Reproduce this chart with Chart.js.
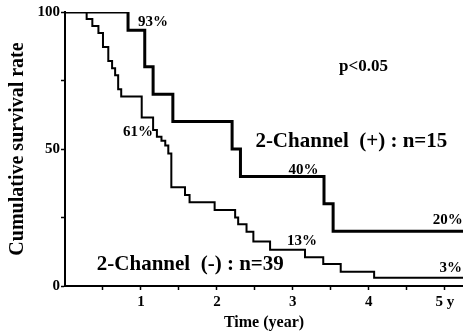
<!DOCTYPE html>
<html>
<head>
<meta charset="utf-8">
<script src="https://cdn.jsdelivr.net/npm/chart.js@4/dist/chart.umd.min.js"></script>
<style>
  html, body { margin: 0; padding: 0; background: #fff; }
</style>
</head>
<body>
<canvas id="kmChart" width="463" height="332"></canvas>
<script>
// survival curves: time in years, cumulative survival in %
var plusTimes = [0, 0.83, 1.05, 1.16, 1.42, 2.20, 2.31, 3.41, 3.53, 5.24];
var plusSurvival = [100, 93.3, 80.0, 70.0, 60.0, 50.0, 40.0, 30.0, 20.0, 20.0];

var minusTimes = [0, 0.285, 0.36, 0.44, 0.50, 0.57, 0.62, 0.66, 0.70, 0.74, 1.01, 1.16, 1.21, 1.27, 1.32, 1.36, 1.40, 1.58, 1.64, 1.97, 2.24, 2.28, 2.39, 2.48, 2.70, 3.16, 3.40, 3.63, 4.07, 5.24];
var minusSurvival = [100, 97.4, 94.9, 92.3, 87.2, 82.1, 79.5, 76.9, 71.8, 69.2, 61.5, 56.9, 54.5, 53.0, 51.3, 48.4, 36.0, 33.2, 30.6, 27.7, 25.0, 22.5, 19.8, 16.2, 13.2, 10.5, 8.0, 5.2, 3.0, 3.0];

var xTickValues = [0.5, 1, 1.5, 2, 2.5, 3, 3.5, 4, 4.5, 5];
var xLabelValues = [1, 2, 3, 4, 5];
var xTickLabels = ['1', '2', '3', '4', '5 y'];
var yTickValues = [0, 25, 50, 75, 100];
var yLabelValues = [0, 50, 100];
var yTickLabels = ['0', '50', '100'];

function toPoints(times, values) {
    return times.map(function(t, i) { return { x: t, y: values[i] }; });
}

var serif = "'Liberation Serif', 'DejaVu Serif', serif";

// text written on the plot, placed in data units
var notes = [
    { text: '93%', x: 1.16, y: 96.4, size: 15 },
    { text: '61%', x: 0.96, y: 56.3, size: 15 },
    { text: 'p<0.05', x: 3.93, y: 80.0, size: 17 },
    { text: '2-Channel  (+) : n=15', x: 3.77, y: 52.7, size: 21 },
    { text: '40%', x: 3.14, y: 42.3, size: 15 },
    { text: '20%', x: 5.04, y: 24.0, size: 15 },
    { text: '13%', x: 3.12, y: 16.2, size: 15 },
    { text: '3%', x: 5.08, y: 6.5, size: 15 },
    { text: '2-Channel  (-) : n=39', x: 1.65, y: 7.7, size: 21 }
];

var notesPlugin = {
    id: 'notes',
    afterDatasetsDraw: function(chart) {
        var ctx = chart.ctx;
        var xs = chart.scales.x, ys = chart.scales.y;
        ctx.save();
        ctx.fillStyle = '#000';
        ctx.textAlign = 'center';
        ctx.textBaseline = 'middle';
        notes.forEach(function(n) {
            ctx.font = 'bold ' + n.size + 'px ' + serif;
            ctx.fillText(n.text, xs.getPixelForValue(n.x), ys.getPixelForValue(n.y));
        });
        ctx.restore();
    }
};

var ctx = document.getElementById('kmChart').getContext('2d');
var kmChart = new Chart(ctx, {
    type: 'line',
    data: {
        datasets: [{
            label: '2-Channel (+)',
            data: toPoints(plusTimes, plusSurvival),
            stepped: 'before',
            borderColor: '#000',
            borderWidth: 3,
            pointRadius: 0,
            fill: false
        }, {
            label: '2-Channel (-)',
            data: toPoints(minusTimes, minusSurvival),
            stepped: 'before',
            borderColor: '#000',
            borderWidth: 2,
            pointRadius: 0,
            fill: false
        }]
    },
    options: {
        responsive: false,
        animation: false,
        devicePixelRatio: 1,
        layout: { padding: { top: 12, right: 0, bottom: 0, left: 0 } },
        plugins: {
            legend: { display: false },
            tooltip: { enabled: false }
        },
        scales: {
            x: {
                type: 'linear',
                min: 0,
                max: 5.24,
                afterFit: function(scale) { scale.height = 46; },
                afterBuildTicks: function(scale) {
                    scale.ticks = xTickValues.map(function(v) { return { value: v }; });
                },
                border: { display: true, color: '#000', width: 2 },
                grid: { drawOnChartArea: false, drawTicks: true, tickLength: 4, color: '#000', tickWidth: 1.5 },
                ticks: {
                    autoSkip: false,
                    maxRotation: 0,
                    padding: 3,
                    color: '#000',
                    font: { family: serif, size: 15, weight: 'bold' },
                    callback: function(v) {
                        var i = xLabelValues.indexOf(v);
                        return i >= 0 ? xTickLabels[i] : '';
                    }
                },
                title: {
                    display: true,
                    text: 'Time (year)',
                    color: '#000',
                    font: { family: serif, size: 16, weight: 'bold' },
                    padding: { top: 1, bottom: 0 }
                }
            },
            y: {
                min: 0,
                max: 100,
                afterFit: function(scale) { scale.width = 65; },
                afterBuildTicks: function(scale) {
                    scale.ticks = yTickValues.map(function(v) { return { value: v }; });
                },
                border: { display: true, color: '#000', width: 2 },
                grid: { drawOnChartArea: false, drawTicks: true, tickLength: 4, color: '#000', tickWidth: 1.5 },
                ticks: {
                    autoSkip: false,
                    padding: 1,
                    color: '#000',
                    font: { family: serif, size: 15, weight: 'bold' },
                    callback: function(v) {
                        var i = yLabelValues.indexOf(v);
                        return i >= 0 ? yTickLabels[i] : '';
                    }
                },
                title: {
                    display: true,
                    text: 'Cumulative survival rate',
                    color: '#000',
                    font: { family: serif, size: 20, weight: 'bold' },
                    padding: { top: 6, bottom: 0 }
                }
            }
        }
    },
    plugins: [notesPlugin]
});
</script>
</body>
</html>
